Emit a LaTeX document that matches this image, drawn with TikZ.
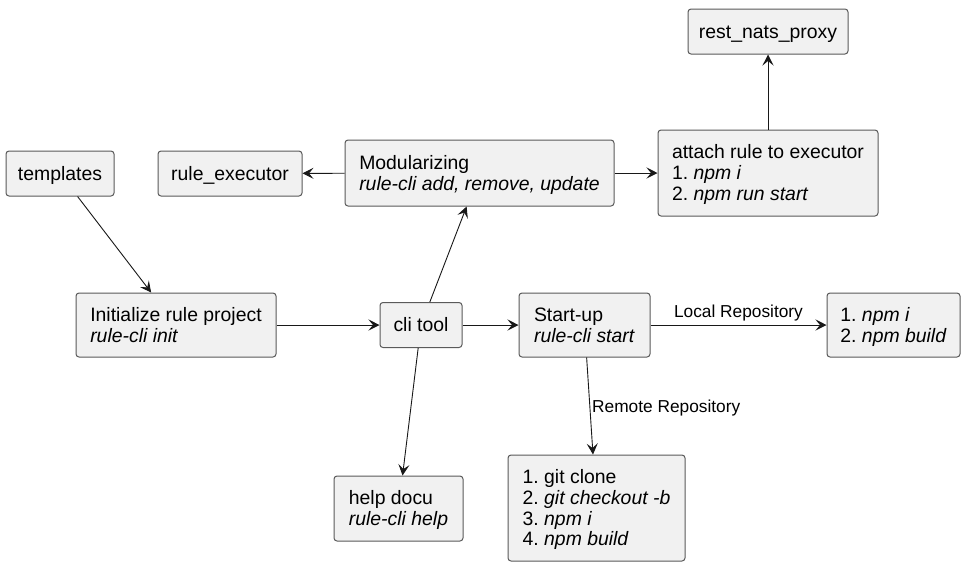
\documentclass[tikz,border=0pt]{standalone}
\usepackage{fontspec}
\setmainfont{Liberation Sans}
\usetikzlibrary{arrows.meta}
\definecolor{boxfill}{HTML}{F1F1F1}
\definecolor{boxline}{HTML}{5A5A5A}
\definecolor{edgecol}{HTML}{181818}
\newcommand{\bxtext}[1]{\raisebox{-2.5pt}[\height][\depth]{\begin{tabular}{@{}l@{}}#1\end{tabular}}}
\frenchspacing
\begin{document}
\begin{tikzpicture}[x=1pt,y=-1pt,
  box/.style={draw=boxline, fill=boxfill, line width=1pt, rounded corners=3pt,
    inner sep=0pt, font=\fontsize{19.4}{20.8}\selectfont\frenchspacing, text=black},
  edge/.style={draw=edgecol, line width=0.9pt, -{Stealth[length=11pt,width=11pt,inset=4.5pt]}},
  lbl/.style={font=\fontsize{17.3}{20}\selectfont, inner sep=0pt, text=black}]
\fill[white] (0,0) rectangle (970,574);
\useasboundingbox (0,0) rectangle (970,574);

\node[box, minimum width=108pt, minimum height=45pt] (templates) at (60,173.5) {\bxtext{templates}};
\node[box, minimum width=144pt, minimum height=45pt] (ruleexec) at (230,173.5) {\bxtext{rule\_executor}};
\node[box, minimum width=269pt, minimum height=66pt] (mod) at (479.5,173) {\bxtext{Modularizing\\\textit{rule-cli add, remove, update}}};
\node[box, minimum width=220pt, minimum height=86pt] (attach) at (768,173) {\bxtext{attach rule to executor\\1. \textit{npm i}\\2. \textit{npm run start}}};
\node[box, minimum width=160pt, minimum height=45pt] (rest) at (768,31.5) {\bxtext{rest\_nats\_proxy}};
\node[box, minimum width=200pt, minimum height=64pt] (init) at (176,325) {\bxtext{Initialize rule project\\\textit{rule-cli init}}};
\node[box, minimum width=82pt, minimum height=45pt] (cli) at (421,325) {\bxtext{cli tool}};
\node[box, minimum width=131pt, minimum height=64pt] (start) at (584.5,325) {\bxtext{Start-up\\\textit{rule-cli start}}};
\node[box, minimum width=133pt, minimum height=64pt] (npm) at (893.5,325) {\bxtext{1. \textit{npm i}\\2. \textit{npm build}}};
\node[box, minimum width=129pt, minimum height=65pt] (help) at (398.5,508.5) {\bxtext{help docu\\\textit{rule-cli help}}};
\node[box, minimum width=177pt, minimum height=106pt] (git) at (596.5,508) {\bxtext{1. git clone\\2. \textit{git checkout -b}\\3. \textit{npm i}\\4. \textit{npm build}}};

\draw[edge] (templates) -- (init);
\draw[edge] (mod) -- (ruleexec);
\draw[edge] (mod) -- (attach);
\draw[edge] (attach) -- (rest);
\draw[edge] (init) -- (cli);
\draw[edge] (cli) -- (mod);
\draw[edge] (cli) -- (help);
\draw[edge] (cli) -- (start);
\draw[edge] (start) -- node[lbl, above=3pt, pos=0.5] (lloc) {Local Repository} (npm);
\draw[edge] (start) -- (git);
\node[lbl, anchor=west] (lrem) at (592,408) {Remote Repository};
\end{tikzpicture}
\end{document}
